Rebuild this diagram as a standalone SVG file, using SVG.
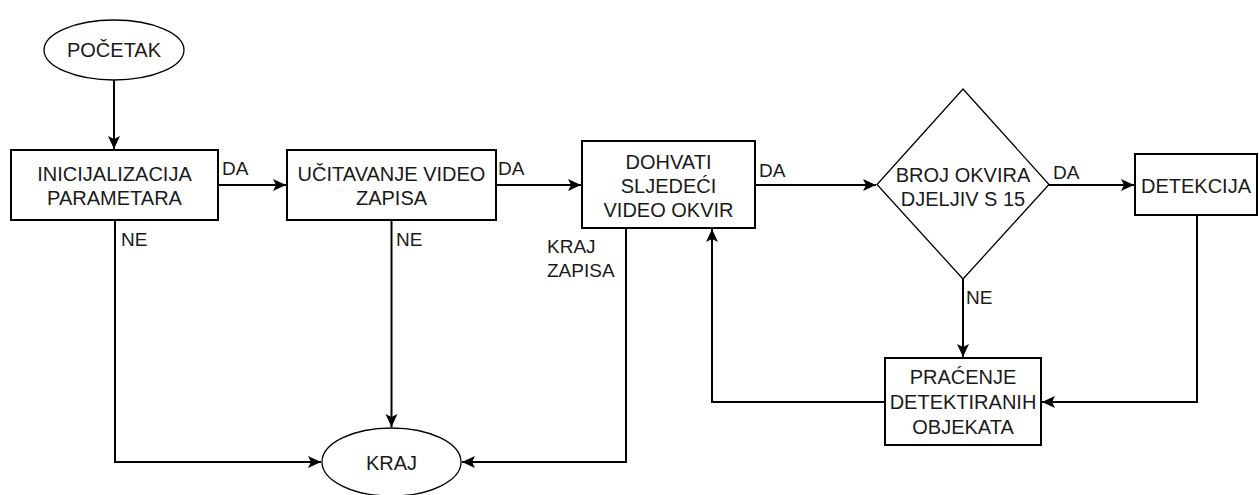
<svg xmlns="http://www.w3.org/2000/svg" width="1259" height="495" viewBox="0 0 1259 495">
<style>
text{font-family:"Liberation Sans",Arial,sans-serif;font-size:20px;fill:#1a1a1a}
.c{text-anchor:middle}
.box{fill:#fff;stroke:#000;stroke-width:2}
.thin{fill:#fff;stroke:#000;stroke-width:1.3}
.ln{fill:none;stroke:#000;stroke-width:2}
.lbl{font-size:19px}
</style>
<defs>
<marker id="arr" viewBox="-14 -7 15 14" refX="0" refY="0" markerWidth="15" markerHeight="14" markerUnits="userSpaceOnUse" orient="auto">
<path d="M-13,-6 L0,0 L-13,6 L-10,0 Z" fill="#000"/>
</marker>
</defs>
<rect width="1259" height="495" fill="#fff"/>
<g id="connectors">
<path class="ln" d="M114,80 V149" marker-end="url(#arr)"/>
<path class="ln" d="M218,185 H286" marker-end="url(#arr)"/>
<path class="ln" d="M496,185 H581" marker-end="url(#arr)"/>
<path class="ln" d="M755,185 H876" marker-end="url(#arr)"/>
<path class="ln" d="M1049,185 H1134" marker-end="url(#arr)"/>
<path class="ln" d="M115,220 V462 H321" marker-end="url(#arr)"/>
<path class="ln" d="M391.5,220 V427" marker-end="url(#arr)"/>
<path class="ln" d="M626,228 V462 H462" marker-end="url(#arr)"/>
<path class="ln" d="M963,279 V357" marker-end="url(#arr)"/>
<path class="ln" d="M1197,215 V402 H1042" marker-end="url(#arr)"/>
<path class="ln" d="M885,402 H712 V229" marker-end="url(#arr)"/>
<text class="lbl" x="222" y="175">DA</text>
<text class="lbl" x="498" y="175">DA</text>
<text class="lbl" x="759" y="177">DA</text>
<text class="lbl" x="1053" y="179">DA</text>
<text class="lbl" x="121" y="246">NE</text>
<text class="lbl" x="396" y="246">NE</text>
<text class="lbl" x="966" y="304">NE</text>
<text class="lbl" x="547" y="253">KRAJ</text>
<text class="lbl" x="547" y="277">ZAPISA</text>
</g>
<g id="pocetak">
<ellipse class="thin" cx="114" cy="50" rx="70" ry="30"/>
<text class="c" x="114" y="57">POČETAK</text>
</g>
<g id="inicijalizacija">
<rect class="box" x="11" y="150" width="207" height="70"/>
<text class="c" x="114.5" y="181">INICIJALIZACIJA</text>
<text class="c" x="114.5" y="205">PARAMETARA</text>
</g>
<g id="ucitavanje">
<rect class="box" x="287" y="150" width="209" height="70"/>
<text class="c" x="391.5" y="181">UČITAVANJE VIDEO</text>
<text class="c" x="391.5" y="205">ZAPISA</text>
</g>
<g id="dohvati">
<rect class="box" x="582" y="141" width="173" height="87"/>
<text class="c" x="668.5" y="169">DOHVATI</text>
<text class="c" x="668.5" y="193">SLJEDEĆI</text>
<text class="c" x="668.5" y="217">VIDEO OKVIR</text>
</g>
<g id="broj-okvira">
<path class="thin" d="M963,89 L1049,184.5 L963,279 L877,184.5 Z"/>
<text class="c" x="963" y="182">BROJ OKVIRA</text>
<text class="c" x="963" y="206">DJELJIV S 15</text>
</g>
<g id="detekcija">
<rect class="box" x="1135" y="154" width="122" height="61"/>
<text class="c" x="1196" y="193">DETEKCIJA</text>
</g>
<g id="pracenje">
<rect class="box" x="885" y="358" width="156" height="87"/>
<text class="c" x="963" y="384">PRAĆENJE</text>
<text class="c" x="963" y="409">DETEKTIRANIH</text>
<text class="c" x="963" y="434">OBJEKATA</text>
</g>
<g id="kraj">
<ellipse class="thin" cx="391.5" cy="462" rx="69.5" ry="34"/>
<text class="c" x="391.5" y="470">KRAJ</text>
</g>
</svg>
